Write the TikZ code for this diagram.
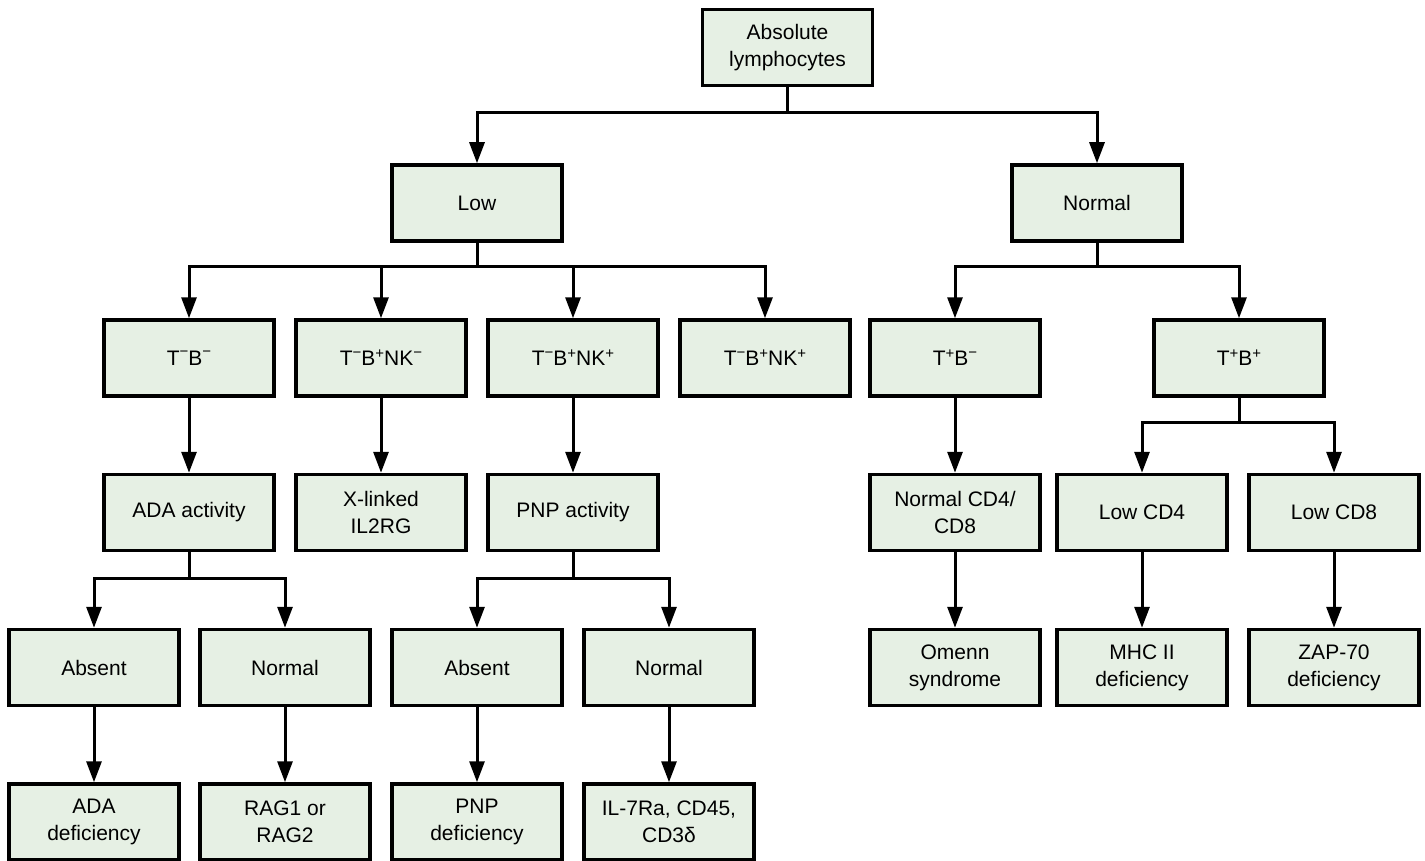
\documentclass[tikz,border=0pt]{standalone}
\usepackage{fontspec}
\setmainfont{Liberation Sans}
\usetikzlibrary{arrows.meta}
\definecolor{boxfill}{RGB}{230,240,228}
\newcommand{\supm}{\raisebox{8.5pt}{\fontsize{15}{15}\selectfont −}}
\newcommand{\supp}{\raisebox{7pt}{\fontsize{15}{15}\selectfont +}}
\begin{document}
\begin{tikzpicture}[x=1pt,y=-1pt,
  box/.style={draw=black, line width=3.5pt, fill=boxfill, minimum width=170pt,
    minimum height=76pt, inner sep=0pt, align=center,
    font=\fontsize{21}{27}\selectfont},
  link/.style={line width=3pt},
  arr/.style={line width=3pt, -{Triangle[length=21pt,width=15pt]}}]
\useasboundingbox (0,0) rectangle (1425,861);
% row 1
\node[box] (top) at (787.5,47.5) {Absolute\\lymphocytes};
% row 2
\node[box] (low) at (477,203) {Low};
\node[box] (nor) at (1097,203) {Normal};
% row 3
\node[box] (tbm) at (189,358) {T\supm B\supm};
\node[box] (tbnm) at (381,358) {T\supm B\supp NK\supm};
\node[box] (tbnp) at (573,358) {T\supm B\supp NK\supp};
\node[box] (tbnq) at (765,358) {T\supm B\supp NK\supp};
\node[box] (tpbm) at (955,358) {T\supp B\supm};
\node[box] (tpbp) at (1239,358) {T\supp B\supp};
% row 4
\node[box] (ada) at (189,512.5) {ADA activity};
\node[box] (xl) at (381,512.5) {X-linked\\IL2RG};
\node[box] (pnp) at (573,512.5) {PNP activity};
\node[box] (ncd) at (955,512.5) {Normal CD4/\\CD8};
\node[box] (lcd4) at (1142,512.5) {Low CD4};
\node[box] (lcd8) at (1334,512.5) {Low CD8};
% row 5
\node[box] (abs1) at (94,667.5) {Absent};
\node[box] (nor1) at (285,667.5) {Normal};
\node[box] (abs2) at (477,667.5) {Absent};
\node[box] (nor2) at (669,667.5) {Normal};
\node[box] (omenn) at (955,667.5) {Omenn\\syndrome};
\node[box] (mhc) at (1142,667.5) {MHC II\\deficiency};
\node[box] (zap) at (1334,667.5) {ZAP-70\\deficiency};
% row 6
\node[box] (adad) at (94,822) {ADA\\deficiency};
\node[box] (rag) at (285,822) {RAG1 or\\RAG2};
\node[box] (pnpd) at (477,822) {PNP\\deficiency};
\node[box] (il7) at (669,822) {IL-7Ra, CD45,\\CD3δ};
% junctions
\coordinate (j1) at (787.5,113);
\coordinate (j2) at (477,267);
\coordinate (j3) at (1097,267);
\coordinate (j4) at (189,578);
\coordinate (j5) at (573,578);
\coordinate (j6) at (1239,422);
% connectors
\draw[link] (top.south) -- (j1);
\draw[arr] (j1) -| (low.north);
\draw[arr] (j1) -| (nor.north);
\draw[link] (low.south) -- (j2);
\draw[arr] (j2) -| (tbm.north);
\draw[arr] (j2) -| (tbnm.north);
\draw[arr] (j2) -| (tbnp.north);
\draw[arr] (j2) -| (tbnq.north);
\draw[link] (nor.south) -- (j3);
\draw[arr] (j3) -| (tpbm.north);
\draw[arr] (j3) -| (tpbp.north);
\draw[arr] (tbm) -- (ada);
\draw[arr] (tbnm) -- (xl);
\draw[arr] (tbnp) -- (pnp);
\draw[arr] (tpbm) -- (ncd);
\draw[link] (tpbp.south) -- (j6);
\draw[arr] (j6) -| (lcd4.north);
\draw[arr] (j6) -| (lcd8.north);
\draw[link] (ada.south) -- (j4);
\draw[arr] (j4) -| (abs1.north);
\draw[arr] (j4) -| (nor1.north);
\draw[link] (pnp.south) -- (j5);
\draw[arr] (j5) -| (abs2.north);
\draw[arr] (j5) -| (nor2.north);
\draw[arr] (ncd) -- (omenn);
\draw[arr] (lcd4) -- (mhc);
\draw[arr] (lcd8) -- (zap);
\draw[arr] (abs1) -- (adad);
\draw[arr] (nor1) -- (rag);
\draw[arr] (abs2) -- (pnpd);
\draw[arr] (nor2) -- (il7);
\end{tikzpicture}
\end{document}
